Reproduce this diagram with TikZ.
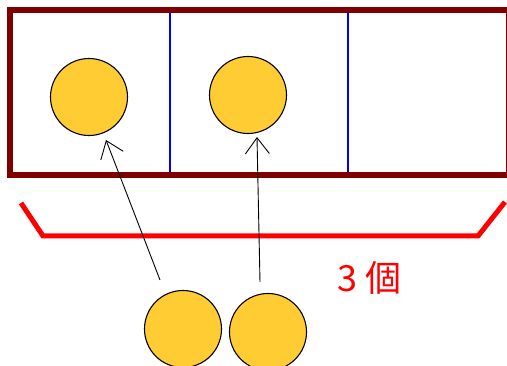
\documentclass[tikz,border=0pt]{standalone}
\usepackage{fontspec}
\newfontfamily\cjk{Noto Sans CJK JP}
\usetikzlibrary{arrows.meta}
\definecolor{coinyellow}{RGB}{255,204,51}
\definecolor{framered}{RGB}{128,0,0}
\begin{document}
\begin{tikzpicture}[
    x=1pt, y=-1pt,
    mycoin/.style={circle, draw=black, line width=1.1pt, fill=coinyellow, minimum size=77pt, inner sep=0pt},
    myarrow/.style={-{Straight Barb[length=16pt,width=24pt]}, line width=0.9pt},
    mywall/.style={blue, line width=2pt},
    mylabel/.style={red, font=\cjk\fontsize{36}{40}\selectfont}
]
    \clip (0,0) rectangle (507,366);
    \fill[white] (0,0) rectangle (507,366);

    % Dividers between the slots
    \draw[mywall] (170,10) -- (170,174);
    \draw[mywall] (348,10) -- (348,174);

    % Frame
    \draw[framered, line width=6pt] (10,10) rectangle (508.5,175);

    % Coins in the slots
    \node[mycoin] (slota) at (89,97) {};
    \node[mycoin] (slotb) at (248,95) {};

    % Coins waiting below
    \node[mycoin] (coina) at (183,329) {};
    \node[mycoin] (coinb) at (268,332) {};

    % Bracket over the three slots
    \draw[red, line width=5pt] (21,203) -- (43,236) -- (478,236) -- (505,202);
    \node[mylabel] (count) at (370,278) {3 個};

    % Arrows
    \coordinate (fromA) at (160,280);
    \coordinate (toA) at (106,140);
    \coordinate (fromB) at (260,282);
    \coordinate (toB) at (257,137);
    \draw[myarrow] (fromA) -- (toA);
    \draw[myarrow] (fromB) -- (toB);
\end{tikzpicture}
\end{document}
